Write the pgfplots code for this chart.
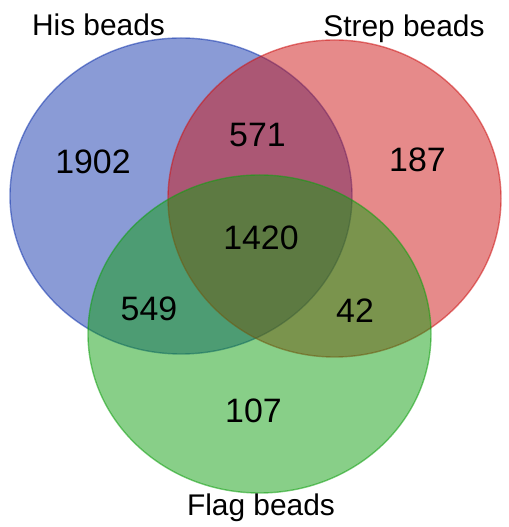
\documentclass[border=0pt]{standalone}
\usepackage{fontspec}
\setmainfont{Liberation Sans}
\usepackage{pgfplots}
\pgfplotsset{compat=1.18}
\usepackage{pgfplotstable}

\definecolor{hisblue}{RGB}{21,55,173}
\definecolor{strepred}{RGB}{205,21,21}
\definecolor{flaggreen}{RGB}{17,159,17}

% region counts, placed at the baseline centre of each number
\pgfplotstableread{
x y label
93 353 1902
257.5 380 571
417.5 355 187
261 277 1420
149 206 549
355 204 42
253.5 104 107
}\counts

\begin{document}
\begin{tikzpicture}
\begin{axis}[
  scale only axis, width=509bp, height=527bp,
  xmin=0, xmax=509, ymin=0, ymax=527,
  hide axis, clip=false,
]
% sets: centre x, centre y, radius x, radius y
\draw[fill=hisblue, draw=hisblue, fill opacity=0.5, draw opacity=0.55, line width=1.4pt]
  (axis cs:181,331) ellipse [x radius=171, y radius=158];
\draw[fill=strepred, draw=strepred, fill opacity=0.5, draw opacity=0.55, line width=1.4pt]
  (axis cs:334.5,328.5) ellipse [x radius=166.5, y radius=158.5];
\draw[fill=flaggreen, draw=flaggreen, fill opacity=0.5, draw opacity=0.55, line width=1.4pt]
  (axis cs:259.5,193) ellipse [x radius=171.5, y radius=159];

\addplot[only marks, mark=none, nodes near coords, point meta=explicit symbolic,
  nodes near coords style={anchor=base, inner sep=0pt, font=\fontsize{34}{40}\selectfont}]
  table[x=x, y=y, meta=label] {\counts};

\node[anchor=base, inner sep=0pt, font=\fontsize{30}{36}\selectfont] at (axis cs:98.5,491) {His beads};
\node[anchor=base, inner sep=0pt, font=\fontsize{30}{36}\selectfont] at (axis cs:404,490) {Strep beads};
\node[anchor=base, inner sep=0pt, font=\fontsize{30}{36}\selectfont] at (axis cs:261,12) {Flag beads};
\end{axis}
\pgfresetboundingbox
\path (current axis.south west) rectangle (current axis.north east);
\end{tikzpicture}
\end{document}
